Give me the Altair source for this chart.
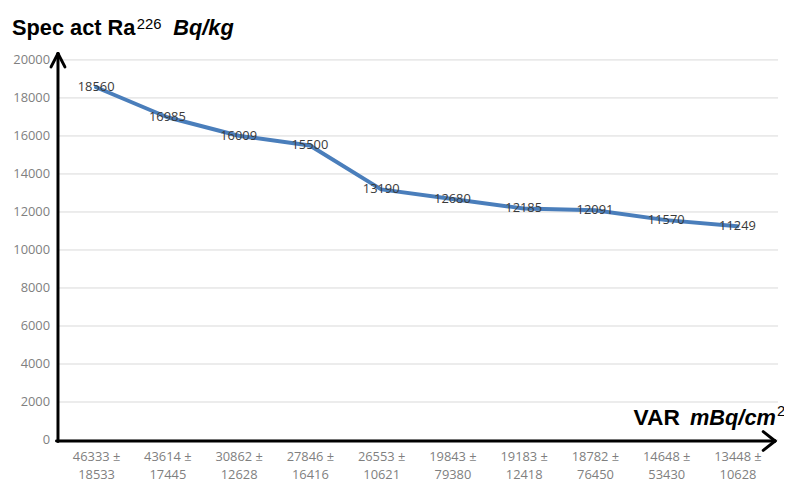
import altair as alt
import pandas as pd

var_top = ["46333 ±", "43614 ±", "30862 ±", "27846 ±", "26553 ±",
           "19843 ±", "19183 ±", "18782 ±", "14648 ±", "13448 ±"]
var_bottom = ["18533", "17445", "12628", "16416", "10621",
              "79380", "12418", "76450", "53430", "10628"]
spec_act = [18560, 16985, 16009, 15500, 13190, 12680, 12185, 12091, 11570, 11249]
y_ticks = list(range(0, 20001, 2000))

df = pd.DataFrame({
    "cat": [f"{a}\n{b}" for a, b in zip(var_top, var_bottom)],
    "val": spec_act,
})
grid_df = pd.DataFrame({"val": y_ticks})

W, H = 720, 384
FONT = "Open Sans"
TFONT = "Liberation Sans"

x_enc = alt.X("cat:N", sort=None,
              scale=alt.Scale(padding=0.5),
              axis=alt.Axis(title=None, labelExpr="split(datum.label, '\\n')",
                            labelAngle=0, labelFont=FONT, labelFontSize=13,
                            labelColor="#7f7f7f", labelLineHeight=18,
                            labelPadding=11, ticks=False, domain=False,
                            grid=False))
y_enc = alt.Y("val:Q",
              scale=alt.Scale(domain=[0, 20000], nice=False),
              axis=alt.Axis(title=None, values=y_ticks, format="d",
                            labelOverlap=False, labelFont=FONT,
                            labelFontSize=13, labelColor="#7f7f7f",
                            labelPadding=11, ticks=False, domain=False,
                            grid=False))

grid = alt.Chart(grid_df).mark_rule(color="#d9d9d9", strokeWidth=1).encode(
    y=y_enc, x=alt.value(-2), x2=alt.value(725))

base = alt.Chart(df).encode(x=x_enc, y=y_enc)
line = base.mark_line(color="#4a7ebb", strokeWidth=4, strokeCap="round",
                      strokeJoin="round")
labels = base.mark_text(font=FONT, fontSize=13, color="#3a3a3a").encode(
    text="val:Q")

one = alt.Data(values=[{"a": 1}])


def seg(x1, y1, x2, y2):
    return alt.Chart(one).mark_rule(color="black", strokeWidth=3,
                                    strokeCap="round").encode(
        x=alt.value(x1), y=alt.value(y1), x2=alt.value(x2), y2=alt.value(y2))


def txt(s, x, y, size=22, style="normal", weight="bold", align="left"):
    return alt.Chart(one).mark_text(text=s, font=TFONT, fontSize=size,
                                    fontStyle=style, fontWeight=weight,
                                    align=align, baseline="alphabetic",
                                    color="black").encode(
        x=alt.value(x), y=alt.value(y))


axes = [
    seg(-2.5, 385.5, -2.5, -6.5),
    seg(-2.5, -6.5, -9.5, 7),
    seg(-2.5, -6.5, 4.5, 7),
    seg(-4, 385, 722, 385),
    seg(722, 385, 710, 375.5),
    seg(722, 385, 710, 394.5),
]
titles = [
    txt("Spec act Ra", -49, -25),
    txt("226", 77, -31, size=15, weight="normal"),
    txt("Bq/kg", 114, -25, style="italic"),
    txt("VAR", 579, 369, size=23),
    txt("mBq/cm", 636, 369, size=22, style="italic"),
    txt("2", 724, 360, size=15, weight="normal"),
]

chart = alt.layer(grid, line, labels, *axes, *titles).properties(
    width=W, height=H,
    autosize=alt.AutoSizeParams(type="none"),
    padding={"left": 53, "top": 50, "right": 11, "bottom": 44},
).configure(background="white",
            view=alt.ViewConfig(stroke="transparent", strokeWidth=0))

chart.save("out.html", embed_options={"renderer": "svg", "actions": False})
